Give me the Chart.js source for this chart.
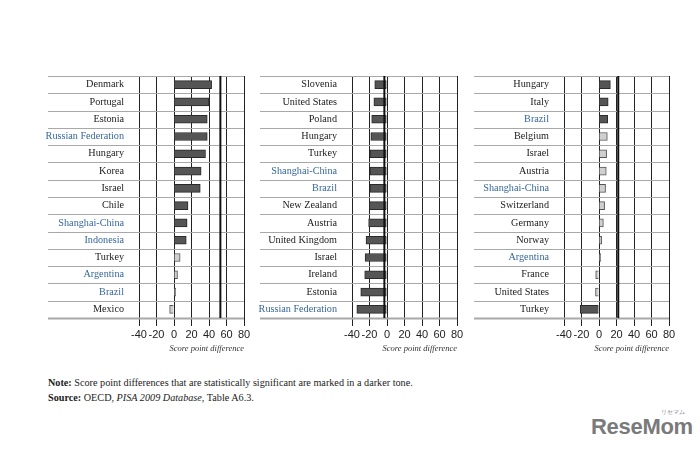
<!DOCTYPE html>
<html>
<head>
<meta charset="utf-8">
<script src="https://cdn.jsdelivr.net/npm/chart.js@4/dist/chart.umd.min.js"></script>
<style>
body{margin:0;background:#fff;width:700px;height:450px;position:relative;overflow:hidden;font-family:"Liberation Serif",serif;}
.panel{position:absolute;top:70px;height:288px;}
.note{position:absolute;left:48px;font-size:10.2px;color:#222;white-space:nowrap;}
.logo{position:absolute;left:591px;top:414px;font-family:"Liberation Sans",sans-serif;font-weight:bold;font-size:22px;color:#7a7a7a;letter-spacing:-0.3px;}
.logo small{position:absolute;left:70px;top:-6px;font-size:6px;font-weight:normal;letter-spacing:0;}
</style>
</head>
<body>
<div class="panel" style="left:46px;width:206px;"><canvas id="c1"></canvas></div>
<div class="panel" style="left:258px;width:207px;"><canvas id="c2"></canvas></div>
<div class="panel" style="left:472px;width:205px;"><canvas id="c3"></canvas></div>
<div class="note" style="top:377px;"><b>Note:</b> Score point differences that are statistically significant are marked in a darker tone.</div>
<div class="note" style="top:392px;"><b>Source:</b> OECD, <i>PISA 2009 Database</i>, Table A6.3.</div>
<div class="logo">ReseMom<small>リセマム</small></div>
<script>
// panel 1
var p1Countries = ["Denmark","Portugal","Estonia","Russian Federation","Hungary","Korea","Israel","Chile","Shanghai-China","Indonesia","Turkey","Argentina","Brazil","Mexico"];
var p1Values = [43, 40, 38, 38, 36, 31, 30, 16, 15, 14, 7, 4, 2, -5];
var p1Sig = [1,1,1,1,1,1,1,1,1,1,0,0,0,0];
// panel 2
var p2Countries = ["Slovenia","United States","Poland","Hungary","Turkey","Shanghai-China","Brazil","New Zealand","Austria","United Kingdom","Israel","Ireland","Estonia","Russian Federation"];
var p2Values = [-14, -15, -17.5, -18.5, -19.5, -19.5, -19.5, -20, -21, -24, -25, -25.5, -30, -34.5];
var p2Sig = [1,1,1,1,1,1,1,1,1,1,1,1,1,1];
// panel 3
var p3Countries = ["Hungary","Italy","Brazil","Belgium","Israel","Austria","Shanghai-China","Switzerland","Germany","Norway","Argentina","France","United States","Turkey"];
var p3Values = [13, 10.5, 10, 9.5, 8.7, 8.3, 7.5, 6.4, 5, 3, 2, -3.8, -4, -21.5];
var p3Sig = [1,1,1,0,0,0,0,0,0,0,0,0,0,1];
// thick reference line per panel
var refLines = [53, -3, 22];
var xTicks = [-40, -20, 0, 20, 40, 60, 80];
var partners = ["Russian Federation","Shanghai-China","Indonesia","Argentina","Brazil"];

var rowLines = {
    id: "rowLines",
    beforeDatasetsDraw: function(chart){
        var ctx = chart.ctx, y = chart.scales.y, a = chart.chartArea;
        var n = chart.data.labels.length;
        ctx.save();
        ctx.strokeStyle = "#a8a8a8";
        for(var i = 0; i <= n; i++){
            var py = Math.round(y.getPixelForValue(i - 0.5)) + 0.5;
            ctx.lineWidth = (i == n) ? 2 : 1.2;
            ctx.beginPath();
            ctx.moveTo(2, py);
            ctx.lineTo(a.right, py);
            ctx.stroke();
        }
        ctx.restore();
    },
    afterDatasetsDraw: function(chart){
        var ctx = chart.ctx, x = chart.scales.x, a = chart.chartArea;
        var px = x.getPixelForValue(chart.options.plugins.rowLines.value);
        ctx.save();
        ctx.strokeStyle = "#111";
        ctx.lineWidth = 2;
        ctx.beginPath();
        ctx.moveTo(px, a.top);
        ctx.lineTo(px, a.bottom);
        ctx.stroke();
        ctx.restore();
    }
};

function makePanel(id, countries, values, sig, ref, yWidth){
    var fills = [], borders = [], labelColors = [];
    for(var i = 0; i < countries.length; i++){
        fills.push(sig[i] ? "#555555" : "#cfcfcf");
        borders.push(sig[i] ? "#2a2a2a" : "#555555");
        labelColors.push(partners.indexOf(countries[i]) >= 0 ? "#36679a" : "#1a1a1a");
    }
    return new Chart(id, {
        type: "bar",
        data: {
            labels: countries,
            datasets: [{
                data: values,
                backgroundColor: fills,
                borderColor: borders,
                borderWidth: 1,
                barThickness: 8
            }]
        },
        plugins: [rowLines],
        options: {
            indexAxis: "y",
            responsive: true,
            maintainAspectRatio: false,
            animation: false,
            layout: {padding: {top: 6, right: 8, left: 0, bottom: 0}},
            scales: {
                x: {
                    min: -40, max: 80,
                    afterBuildTicks: function(s){ s.ticks = xTicks.map(function(v){ return {value: v}; }); },
                    afterFit: function(s){ s.height = 40; s.paddingLeft = 0; s.paddingRight = 0; },
                    grid: {color: "#222", lineWidth: 1, drawTicks: true, tickLength: 8},
                    border: {display: false},
                    ticks: {padding: 2, color: "#222", font: {family: "Liberation Sans", size: 11}, maxRotation: 0, autoSkip: false},
                    title: {display: true, text: "Score point difference", align: "end", padding: {top: 1}, color: "#333", font: {family: "Liberation Serif", style: "italic", size: 8.5}}
                },
                y: {
                    afterFit: function(s){ s.width = yWidth; s.paddingTop = 0; s.paddingBottom = 0; },
                    grid: {display: false},
                    border: {display: false},
                    ticks: {padding: 7, color: labelColors, font: {family: "Liberation Serif", size: 10.2}}
                }
            },
            plugins: {
                legend: {display: false},
                tooltip: {enabled: false},
                rowLines: {value: ref}
            }
        }
    });
}

makePanel("c1", p1Countries, p1Values, p1Sig, refLines[0], 93);
makePanel("c2", p2Countries, p2Values, p2Sig, refLines[1], 94);
makePanel("c3", p3Countries, p3Values, p3Sig, refLines[2], 92);
</script>
</body>
</html>
